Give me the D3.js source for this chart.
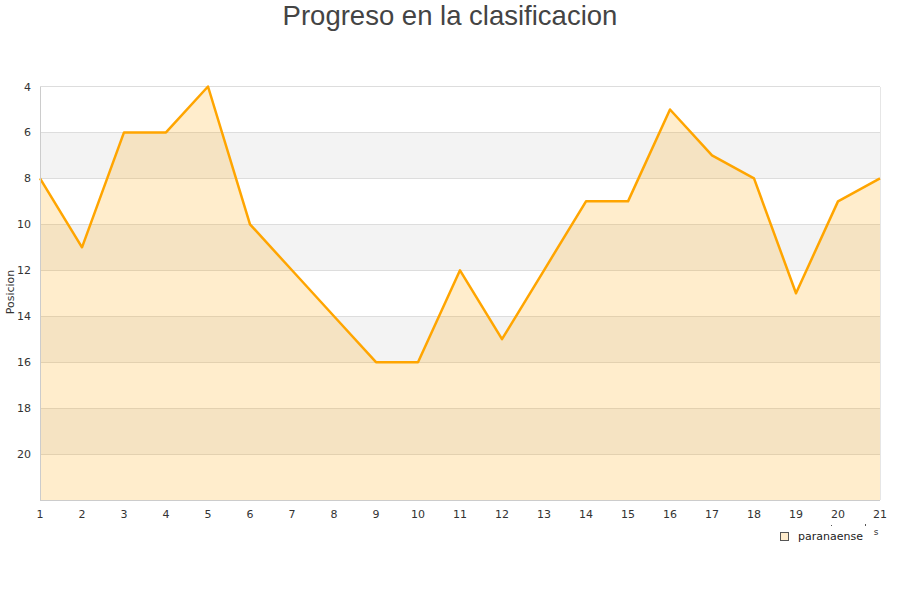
<!DOCTYPE html>
<html><head><meta charset="utf-8">
<script src="https://cdn.jsdelivr.net/npm/d3@7/dist/d3.min.js"></script>
<style>body{margin:0;background:#fff;font-family:"DejaVu Sans",sans-serif;}</style>
</head><body>
<svg id="c" width="900" height="600"></svg>
<script>
const jornadas = [1,2,3,4,5,6,7,8,9,10,11,12,13,14,15,16,17,18,19,20,21];
const posiciones = [8,11,6,6,4,10,12,14,16,16,12,15,12,9,9,5,7,8,13,9,8];
const yTicks = [4,6,8,10,12,14,16,18,20];
const serieNombre = "paranaense";
const titulo = "Progreso en la clasificacion";

const svg = d3.select("#c");
const L = 40, R = 880, T = 86.5, B = 500;
const x = d3.scaleLinear().domain([1,21]).range([L,R]);
const y = d3.scaleLinear().domain([4,22]).range([T,B]);

// bands
const bands = [[6,8],[10,12],[14,16],[18,20]];
svg.append("g").selectAll("rect").data(bands).join("rect")
  .attr("x",L).attr("width",R-L)
  .attr("y",d=>y(d[0])).attr("height",d=>y(d[1])-y(d[0]))
  .attr("fill","#f3f3f3");

// grid
svg.append("g").selectAll("line").data(yTicks).join("line")
  .attr("x1",L).attr("x2",R).attr("y1",d=>y(d)).attr("y2",d=>y(d))
  .attr("stroke","#dddddd").attr("stroke-width",1).attr("shape-rendering","crispEdges");

// frame
svg.append("line").attr("x1",R).attr("x2",R).attr("y1",T).attr("y2",B).attr("stroke","#e6e6e6").attr("shape-rendering","crispEdges");

const pts = jornadas.map((j,i)=>[j,posiciones[i]]);
svg.append("path").datum(pts)
  .attr("d",d3.area().x(d=>x(d[0])).y0(y(22)).y1(d=>y(d[1])))
  .attr("fill","rgba(255,165,0,0.2)");
svg.append("path").datum(pts)
  .attr("d",d3.line().x(d=>x(d[0])).y(d=>y(d[1])))
  .attr("fill","none").attr("stroke","#ffa500").attr("stroke-width",2.5).attr("stroke-linejoin","round");

// axes lines
svg.append("line").attr("x1",L).attr("x2",L).attr("y1",T).attr("y2",B).attr("stroke","#cccccc").attr("shape-rendering","crispEdges");
svg.append("line").attr("x1",L).attr("x2",R).attr("y1",B).attr("y2",B).attr("stroke","#cccccc").attr("shape-rendering","crispEdges");

// y tick labels
svg.append("g").selectAll("text").data(yTicks).join("text")
  .attr("x",31).attr("y",d=>y(d)+4).attr("text-anchor","end")
  .attr("font-size",11).attr("fill","#333").text(d=>d);
// x tick labels
svg.append("g").selectAll("text").data(jornadas).join("text")
  .attr("x",d=>x(d)).attr("y",518).attr("text-anchor","middle")
  .attr("font-size",11).attr("fill","#333").text(d=>d);

// title
svg.append("text").attr("x",450).attr("y",25).attr("text-anchor","middle")
  .attr("font-size",27.5).attr("fill","#444").attr("font-family","Liberation Sans, Arial, sans-serif").text(titulo);

// y label
svg.append("text").attr("transform","translate(14,292) rotate(-90)").attr("text-anchor","middle")
  .attr("font-size",11).attr("fill","#333").text("Posicion");

// stray x title fragments
svg.append("text").attr("x",876).attr("y",535).attr("text-anchor","middle").attr("font-size",9).attr("fill","#333").text("s");
svg.append("rect").attr("x",831).attr("y",525).attr("width",1).attr("height",1).attr("fill","#555");
svg.append("rect").attr("x",865).attr("y",524).attr("width",1).attr("height",2).attr("fill","#555");

// legend
svg.append("rect").attr("x",780.5).attr("y",532.5).attr("width",8).attr("height",8)
  .attr("fill","#ffeccc").attr("stroke","#555").attr("stroke-width",1);
svg.append("text").attr("x",798).attr("y",540).attr("font-size",11).attr("fill","#222").text(serieNombre);
</script>
</body></html>
